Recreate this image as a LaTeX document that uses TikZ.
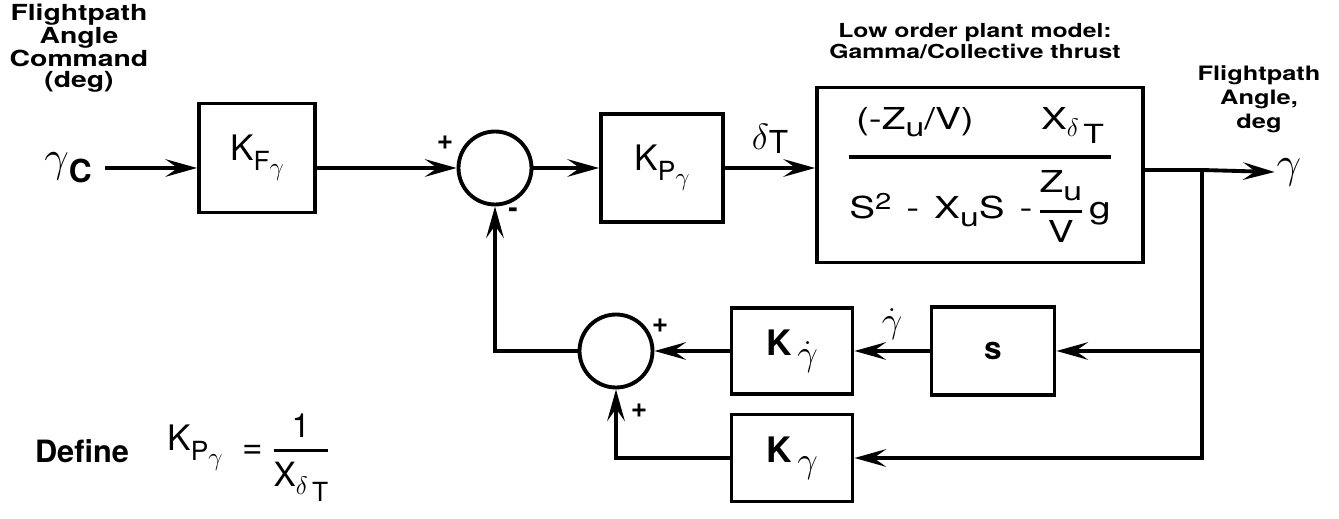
\documentclass[tikz,border=0pt]{standalone}
\usepackage{amsmath}
\usepackage{fontspec}
\setmainfont{TeX Gyre Heros}
\newfontfamily\widesf{TeX Gyre Heros}[FakeStretch=1.28]
\usetikzlibrary{arrows.meta, positioning}

\newcommand{\subA}[1]{\raisebox{-0.5ex}{\fontsize{15}{15}\selectfont #1}}
\newcommand{\subB}[1]{\raisebox{-0.4ex}{\fontsize{14}{14}\selectfont #1}}
\newcommand{\gm}{$\gamma$}
\newcommand{\dl}{$\delta$}
\newcommand{\gmdot}{$\dot{\gamma}$}

\begin{document}
\begin{tikzpicture}[
        x=0.02cm, y=-0.02cm,
        blk/.style={rectangle, draw, line width=2.2pt, inner sep=2pt, font=\fontsize{20}{22}\selectfont},
        sumj/.style={circle, draw, line width=2.2pt, minimum size=1.46cm, inner sep=0pt},
        sgn/.style={inner sep=0pt, font=\bfseries\fontsize{16}{16}\selectfont},
        ttl/.style={align=center, inner sep=0pt, font=\widesf\bfseries\fontsize{12.6}{11.8}\selectfont},
        arrow/.style={-{Stealth[length=18pt, width=10pt, inset=7pt]}, line width=2.2pt}
        ]
        \useasboundingbox (0,0) rectangle (1339,519);

        % forward path
        \node[ttl] (cmdttl) at (79,48) {Flightpath\\Angle\\Command\\(deg)};
        \node[font=\fontsize{24}{24}\selectfont] (gc) at (68,168) {\gm\subA{\bfseries\fontsize{18}{18}\selectfont C}};
        \node[blk, minimum width=2.32cm, minimum height=2.18cm] (kf) at (257,158) {K\subA{F\subB{\gm}}};
        \node[sumj] (sum1) at (495,168) {};
        \node[blk, minimum width=2.44cm, minimum height=2.16cm] (kp) at (662,168) {K\subA{P\subB{\gm}}};
        \node[blk, minimum width=6.52cm, minimum height=3.5cm, font=\widesf\fontsize{17.2}{19}\selectfont] (plant) at (980,175)
            {$\genfrac{}{}{2.2pt}{0}{\text{(-Z\subA{u}/V)\hspace{1.35cm}X\subA{\dl\,\subA{T}}}}{\text{S\raisebox{0.6ex}{\fontsize{13}{13}\selectfont 2}\hspace{0.3cm}-\hspace{0.3cm}X\subA{u}S\hspace{0.3cm}-\,$\genfrac{}{}{1.6pt}{0}{\text{Z\subA{u}}}{\text{V}}$\,g}}$};
        \node[ttl, font=\widesf\bfseries\fontsize{11}{10.4}\selectfont] (plttl) at (975,41) {Low order plant model:\\Gamma/Collective thrust};
        \coordinate (br) at (1202,170);
        \node[font=\fontsize{24}{24}\selectfont, inner sep=1pt] (gout) at (1289,172) {\gm};
        \node[ttl, font=\widesf\bfseries\fontsize{11.3}{13.6}\selectfont] (outttl) at (1259,99) {Flightpath\\Angle,\\deg};

        % feedback path
        \node[blk, minimum width=2.46cm, minimum height=1.76cm, font=\bfseries\fontsize{18}{20}\selectfont] (sblk) at (993,351) {s};
        \node[blk, minimum width=2.42cm, minimum height=1.72cm, font=\bfseries\fontsize{20}{22}\selectfont] (kgd) at (792,351) {K\,\subA{\fontsize{21}{21}\selectfont\gmdot}};
        \node[blk, minimum width=2.42cm, minimum height=1.74cm, font=\bfseries\fontsize{20}{22}\selectfont] (kg) at (792,458) {K\,\subA{\fontsize{21}{21}\selectfont\gm}};
        \node[sumj] (sum2) at (616,351) {};

        \node[sgn] (p1) at (445,143) {+};
        \node[sgn] (m1) at (513,213) {-};
        \node[sgn] (p2) at (660,326) {+};
        \node[sgn] (p3) at (639,411) {+};

        % definition
        \node[font=\bfseries\fontsize{17.5}{17}\selectfont] (def) at (82,451) {Define};
        \node[font=\fontsize{20}{22}\selectfont] (kpdef) at (195,448) {K\subA{P\subB{\gm}}};
        \node[font=\fontsize{20}{22}\selectfont] (eqdef) at (253,452) {=};
        \node[font=\fontsize{19}{22}\selectfont] (fracdef) at (301,458) {$\genfrac{}{}{1.8pt}{0}{\text{1}}{\text{X\subA{\dl\,\subA{T}}}}$};

        \draw[arrow, shorten <=4pt] (gc) -- (kf.west |- gc);
        \draw[arrow] (kf.east |- sum1) -- (sum1);
        \draw[arrow] (sum1) -- (kp);
        \draw[arrow] (kp) -- node[above=4pt, font=\fontsize{20}{20}\selectfont] {\dl\raisebox{-0.2ex}{\fontsize{18}{18}\selectfont T}} (plant.west |- kp);
        \draw[line width=2.2pt] (plant.east |- br) -- (br);
        \draw[arrow] (br) -- (gout.west);
        \draw[arrow] (br) |- (sblk);
        \draw[arrow] (br) |- (kg);
        \draw[arrow] (sblk) -- node[above=2pt, font=\fontsize{22}{22}\selectfont] {\gmdot} (kgd);
        \draw[arrow] (kgd) -- (sum2);
        \draw[arrow] (kg) -| (sum2);
        \draw[arrow] (sum2) -| (sum1);

    \end{tikzpicture}
\end{document}
